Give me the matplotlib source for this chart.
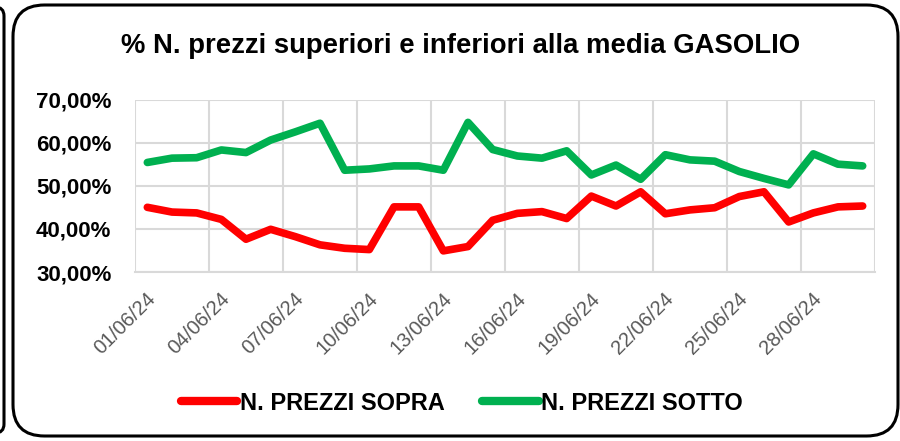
import matplotlib.pyplot as plt
from matplotlib.patches import FancyBboxPatch
from matplotlib.lines import Line2D
import numpy as np

# Daily values, June 2024 (%)
days = [f"{d:02d}/06/24" for d in range(1, 31)]
sopra = [45.0, 43.9, 43.7, 42.2, 37.6, 39.9, 38.2, 36.3, 35.5, 35.2,
         45.1, 45.1, 34.9, 35.9, 42.0, 43.6, 44.0, 42.4, 47.6, 45.3,
         48.6, 43.5, 44.4, 44.9, 47.5, 48.6, 41.6, 43.7, 45.1, 45.3]
sotto = [55.4, 56.4, 56.5, 58.3, 57.7, 60.6, 62.5, 64.5, 53.6, 53.9,
         54.6, 54.6, 53.6, 64.7, 58.4, 56.9, 56.4, 58.1, 52.5, 54.8,
         51.5, 57.2, 56.0, 55.7, 53.3, 51.7, 50.2, 57.4, 55.0, 54.6]
yticks = [30, 40, 50, 60, 70]
title = "% N. prezzi superiori e inferiori alla media GASOLIO"

RED = "#FF0000"
GREEN = "#00B050"
GRID = "#D9D9D9"

plt.rcParams['font.family'] = ['Liberation Sans', 'DejaVu Sans']

fig = plt.figure(figsize=(9, 4.41), dpi=100)

# outer rounded frame
frame = FancyBboxPatch((13 / 900, 5 / 441), 885 / 900, 431 / 441,
                       boxstyle="round,pad=0,rounding_size=0.035",
                       transform=fig.transFigure, fill=False,
                       edgecolor="black", linewidth=2.2, mutation_aspect=2.04)
fig.patches.append(frame)
# edge of the neighbouring chart on the left
left_frame = FancyBboxPatch((-300 / 900, 8 / 441), 304 / 900, 426 / 441,
                            boxstyle="round,pad=0,rounding_size=0.01",
                            transform=fig.transFigure, fill=False,
                            edgecolor="black", linewidth=2.2, mutation_aspect=2.04)
fig.patches.append(left_frame)

ax = fig.add_axes([135 / 900, 1 - 272 / 441, 740 / 900, 172.5 / 441])

x = np.arange(len(days))
ax.plot(x, sopra, color=RED, linewidth=5.5, solid_capstyle='round', solid_joinstyle='round', zorder=3)
ax.plot(x, sotto, color=GREEN, linewidth=5.5, solid_capstyle='round', solid_joinstyle='round', zorder=3)

ax.set_xlim(-0.5, len(days) - 0.5)
ax.set_ylim(30, 70)

ax.set_yticks(yticks)
ax.set_yticklabels([f"{v},00%" for v in yticks], fontsize=16, fontweight='bold')

# gridlines on the day boundaries (minor), labels slightly right of them (major)
bounds = np.arange(-0.5, len(days), 3)
ax.set_xticks(bounds, minor=True)
label_idx = list(range(0, len(days), 3))
ax.set_xticks([i - 0.5 + 0.72 for i in label_idx])
ax.set_xticklabels([days[i] for i in label_idx], rotation=45, ha='right',
                   va='center', rotation_mode='anchor', fontsize=14.5, color="#595959")

ax.tick_params(axis='x', which='both', length=0, pad=17)
ax.tick_params(axis='y', length=0, pad=17)
ax.grid(False, axis='x', which='major')
ax.grid(True, axis='x', which='minor', color=GRID, linewidth=1.5)
ax.grid(True, axis='y', color=GRID, linewidth=1.5)
ax.set_axisbelow(True)
for s in ['top', 'right', 'left']:
    ax.spines[s].set_visible(False)
ax.spines['bottom'].set_color(GRID)
ax.spines['bottom'].set_linewidth(1.5)

fig.text(461 / 900, 1 - 46 / 441, title, ha='center', va='center',
         fontsize=19.8, fontweight='bold')

handles = [Line2D([], [], color=RED, linewidth=6, solid_capstyle='round'),
           Line2D([], [], color=GREEN, linewidth=6, solid_capstyle='round')]
fig.legend(handles, ["N. PREZZI SOPRA", "N. PREZZI SOTTO"],
           loc='center', bbox_to_anchor=(462 / 900, 1 - 403 / 441),
           ncol=2, frameon=False, handlelength=2.4, handletextpad=0.1,
           columnspacing=1.6,
           prop={'weight': 'bold', 'size': 17})

fig.savefig("out.png", dpi=100)
